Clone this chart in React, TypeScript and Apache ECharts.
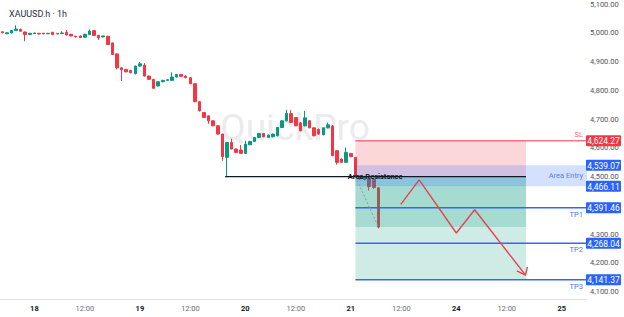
import React, { useEffect, useRef } from 'react';
import * as echarts from 'echarts';

// Trading sessions on the time axis (the weekend between 21 and 24 is skipped)
const sessionDays = ['17', '18', '19', '20', '21', '24', '25'];
const preSessionBars = 7; // last hourly bars of the 17th
const barsPerSession = 23;
const totalBars = 128;

// Hourly candles: [open, close, low, high]
const ohlc: number[][] = [
  [5003.4, 5000.0, 4998.0, 5005.0],
  [4996.5, 5000.0, 4995.0, 5001.5],
  [4999.3, 5007.6, 4998.0, 5009.0],
  [5007.6, 5013.1, 5006.0, 5025.9],
  [5012.1, 5005.2, 5004.0, 5014.0],
  [5002.7, 4993.7, 4970.6, 5004.0],
  [4993.7, 4998.2, 4992.0, 4999.5],
  [4997.2, 4999.3, 4996.0, 5000.5],
  [4998.2, 4995.8, 4994.5, 4999.5],
  [4998.5, 4996.0, 4995.0, 4999.5],
  [4996.5, 4998.2, 4995.5, 4999.5],
  [5001.7, 4993.7, 4992.5, 5003.0],
  [4998.0, 4996.0, 4995.0, 4999.0],
  [4997.2, 4999.3, 4996.0, 5005.2],
  [5001.7, 4992.4, 4991.0, 5009.7],
  [4994.8, 4988.9, 4987.5, 4996.0],
  [4987.9, 4985.4, 4984.0, 4989.0],
  [4988.9, 4983.4, 4982.0, 4990.0],
  [4984.4, 4994.8, 4983.0, 4996.0],
  [4993.7, 5006.2, 4992.5, 5011.0],
  [5007.6, 4990.3, 4989.0, 5009.0],
  [4991.3, 4982.0, 4975.1, 4992.5],
  [4985.4, 4988.9, 4984.0, 4990.0],
  [4987.9, 4959.1, 4957.5, 4989.0],
  [4964.7, 4924.5, 4922.5, 4966.0],
  [4926.6, 4878.2, 4872.6, 4928.0],
  [4878.2, 4871.3, 4832.2, 4879.5],
  [4872.6, 4864.3, 4862.5, 4874.0],
  [4869.2, 4860.9, 4859.0, 4871.0],
  [4857.4, 4884.1, 4855.5, 4886.0],
  [4884.1, 4892.0, 4882.5, 4897.9],
  [4887.5, 4849.5, 4848.0, 4894.4],
  [4849.5, 4838.0, 4836.5, 4851.0],
  [4838.0, 4806.9, 4805.0, 4839.5],
  [4814.9, 4829.7, 4813.0, 4831.0],
  [4829.7, 4834.6, 4828.0, 4836.0],
  [4834.6, 4836.6, 4833.0, 4838.0],
  [4834.6, 4846.0, 4833.0, 4862.3],
  [4846.0, 4855.3, 4844.5, 4857.0],
  [4855.3, 4848.4, 4847.0, 4857.0],
  [4849.5, 4843.6, 4842.0, 4851.0],
  [4843.6, 4822.8, 4821.0, 4845.0],
  [4822.8, 4760.5, 4758.5, 4824.0],
  [4760.5, 4728.4, 4726.5, 4762.0],
  [4722.5, 4705.2, 4703.5, 4724.0],
  [4711.1, 4693.8, 4683.4, 4713.0],
  [4693.8, 4676.5, 4675.0, 4695.5],
  [4676.5, 4647.7, 4646.0, 4678.0],
  [4647.7, 4569.2, 4555.4, 4649.0],
  [4566.8, 4618.7, 4497.6, 4620.5],
  [4618.7, 4595.8, 4594.0, 4631.5],
  [4595.8, 4584.1, 4582.5, 4597.5],
  [4592.4, 4580.6, 4579.0, 4610.0],
  [4580.6, 4613.1, 4579.0, 4624.6],
  [4610.7, 4622.1, 4609.0, 4624.0],
  [4622.1, 4636.0, 4620.5, 4638.0],
  [4636.0, 4649.8, 4634.5, 4652.0],
  [4649.8, 4638.4, 4636.5, 4651.5],
  [4636.0, 4644.3, 4634.5, 4646.0],
  [4638.4, 4647.7, 4636.5, 4649.5],
  [4641.9, 4670.6, 4640.0, 4672.5],
  [4670.6, 4693.8, 4669.0, 4695.5],
  [4693.8, 4719.7, 4692.0, 4731.8],
  [4719.0, 4687.9, 4686.0, 4730.8],
  [4705.2, 4676.5, 4675.0, 4707.0],
  [4686.8, 4659.2, 4657.5, 4688.5],
  [4676.5, 4704.1, 4674.5, 4728.4],
  [4693.8, 4669.5, 4668.0, 4695.5],
  [4669.5, 4641.9, 4640.0, 4671.0],
  [4664.0, 4647.7, 4645.0, 4667.0],
  [4645.3, 4669.5, 4643.5, 4671.0],
  [4669.5, 4679.9, 4668.0, 4687.9],
  [4676.0, 4572.7, 4571.0, 4679.0],
  [4590.0, 4549.5, 4541.5, 4592.0],
  [4561.2, 4549.5, 4547.5, 4563.0],
  [4549.5, 4584.1, 4547.5, 4601.4],
  [4580.6, 4569.2, 4567.5, 4582.5],
  [4566.8, 4500.0, 4497.0, 4568.5],
  [4500.0, 4492.0, 4488.0, 4503.0],
  [4490.0, 4497.0, 4486.0, 4500.0],
  [4493.0, 4465.4, 4451.6, 4497.0],
  [4489.6, 4461.9, 4458.0, 4493.0],
  [4461.0, 4324.6, 4320.0, 4462.0],
];

// Trade plan
const levelNames = ['SL', 'TP1', 'TP2', 'TP3'];
const levelPrices = [4624.27, 4391.46, 4268.04, 4141.37];
const entryBand = [4539.07, 4466.11];
const entryPrice = 4500;

// Drawing anchors, in bar units of the time axis
const boxFrom = 77;
const boxTo = 114.2;
const resistanceFrom = 48.6;
const resistanceLabelAt = 81.3;

// Projected price path and its arrow head (bar, price)
const pathBars = [86.9, 90.9, 99.0, 103.0, 114.1];
const pathPrices = [4403.1, 4488.6, 4303.8, 4384.8, 4157.5];
const arrowBars = [112.2, 114.1, 114.5];
const arrowPrices = [4172.4, 4157.5, 4186.2];

const FONT = 'Roboto, Arial, sans-serif';
const UP = '#089981';
const DOWN = '#f23645';
const BLUE = '#2962ff';
const xMin = -0.5;
const xMax = totalBars - 0.5;
const yMin = 4074.4;
const yMax = 5109;

const fmtPrice = (v: number) =>
  v.toLocaleString('en-US', { minimumFractionDigits: 2, maximumFractionDigits: 2 });

// Category names "DD HH:00" for every hourly bar slot
const barLabels: string[] = [];
const barHours: number[] = [];
for (let i = 0; i < totalBars; i++) {
  let day: string;
  let hour: number;
  if (i < preSessionBars) {
    day = sessionDays[0];
    hour = 24 - preSessionBars + i;
  } else {
    const k = Math.floor((i - preSessionBars) / barsPerSession);
    day = sessionDays[k + 1];
    hour = 1 + ((i - preSessionBars) % barsPerSession);
  }
  barLabels.push(`${day} ${String(hour).padStart(2, '0')}:00`);
  barHours.push(hour);
}

const lastIndex = ohlc.length - 1;
const lastClose = ohlc[lastIndex][1];

const zoneRects = [
  [boxFrom, boxTo, entryPrice, levelPrices[0]],
  [boxFrom, boxTo, levelPrices[3], entryPrice],
  [boxFrom, boxTo, lastClose, entryPrice],
  [boxFrom, xMax, entryBand[1], entryBand[0]],
];
const zoneFills = [
  'rgba(242,54,69,0.2)',
  'rgba(8,153,129,0.2)',
  'rgba(8,153,129,0.2)',
  'rgba(41,98,255,0.2)',
];

const tagPrices = [...levelPrices, ...entryBand];

const noteTexts = ['Area Resistance', 'Area Entry'];
const notePoints = [
  [resistanceLabelAt, entryPrice],
  [xMax, (entryBand[0] + entryBand[1]) / 2],
];

function buildOption(): any {
  return {
    animation: false,
    backgroundColor: '#ffffff',
    textStyle: { fontFamily: FONT },
    title: {
      text: 'XAUUSD.h · 1h',
      left: 4,
      top: 4,
      textStyle: { fontSize: 9, fontWeight: 'normal', color: '#2a2e39', fontFamily: FONT },
    },
    graphic: [
      {
        type: 'text',
        x: 295,
        y: 127,
        z: 0,
        silent: true,
        style: {
          text: 'QuickPro',
          fill: '#ebebee',
          fontSize: 37,
          fontFamily: FONT,
          align: 'center',
          verticalAlign: 'middle',
        },
      },
    ],
    grid: { left: 0, right: 37, top: 0, bottom: 18 },
    xAxis: [
      {
        type: 'category',
        data: barLabels,
        boundaryGap: true,
        axisLine: { lineStyle: { color: '#e0e3eb' } },
        axisTick: { show: false },
        splitLine: { show: false },
        axisLabel: {
          margin: 5,
          interval: (index: number) => barHours[index] === 1 || barHours[index] === 12,
          formatter: (value: string) => {
            const [d, t] = value.split(' ');
            return t === '01:00' ? `{d|${d}}` : `{t|${t}}`;
          },
          rich: {
            d: { fontSize: 7.5, fontWeight: 'bold', color: '#131722', fontFamily: FONT },
            t: { fontSize: 7.5, color: '#6a6d78', fontFamily: FONT },
          },
        },
      },
      { type: 'value', show: false, min: xMin, max: xMax },
    ],
    yAxis: {
      type: 'value',
      position: 'right',
      min: yMin,
      max: yMax,
      splitNumber: 10,
      axisLine: { show: false },
      axisTick: { show: false },
      splitLine: { show: false },
      axisLabel: {
        margin: 3,
        fontSize: 7.5,
        color: '#555555',
        fontFamily: FONT,
        formatter: (v: number) =>
          Math.abs(v / 100 - Math.round(v / 100)) < 1e-6 ? fmtPrice(v) : '',
      },
    },
    series: [
      {
        type: 'candlestick',
        xAxisIndex: 0,
        yAxisIndex: 0,
        data: ohlc,
        barWidth: 3,
        z: 2,
        silent: true,
        itemStyle: {
          color: UP,
          color0: DOWN,
          borderColor: UP,
          borderColor0: DOWN,
          borderWidth: 1,
        },
      },
      {
        // position tool zones and the entry band
        type: 'custom',
        xAxisIndex: 1,
        yAxisIndex: 0,
        z: 3,
        silent: true,
        data: zoneRects,
        encode: { x: [0, 1], y: [2, 3] },
        renderItem: (params: any, api: any) => {
          const a = api.coord([api.value(0), api.value(3)]);
          const b = api.coord([api.value(1), api.value(2)]);
          return {
            type: 'rect',
            shape: {
              x: a[0],
              y: Math.min(a[1], b[1]),
              width: b[0] - a[0],
              height: Math.abs(b[1] - a[1]),
            },
            style: { fill: zoneFills[params.dataIndex] },
          };
        },
      },
      {
        type: 'line',
        xAxisIndex: 1,
        yAxisIndex: 0,
        z: 4,
        silent: true,
        symbol: 'none',
        data: [
          [resistanceFrom, entryPrice],
          [boxTo, entryPrice],
        ],
        lineStyle: { color: '#131722', width: 1.1 },
      },
      {
        type: 'line',
        xAxisIndex: 1,
        yAxisIndex: 0,
        z: 4,
        silent: true,
        symbol: 'none',
        data: [
          [boxFrom, entryPrice],
          [lastIndex, lastClose],
        ],
        lineStyle: { color: '#9598a1', width: 1, type: [2, 2] },
      },
      {
        // SL / TP levels
        type: 'custom',
        xAxisIndex: 1,
        yAxisIndex: 0,
        z: 4,
        silent: true,
        data: levelPrices.map((p) => [boxFrom, p]),
        encode: { x: 0, y: 1 },
        renderItem: (params: any, api: any) => {
          const idx = params.dataIndex;
          const cs = params.coordSys;
          const right = cs.x + cs.width;
          const start = api.coord([api.value(0), api.value(1)]);
          const y = start[1];
          const isStop = idx === 0;
          return {
            type: 'group',
            children: [
              {
                type: 'line',
                shape: { x1: start[0], y1: y, x2: right, y2: y },
                style: { stroke: isStop ? DOWN : '#3567f2', lineWidth: isStop ? 1 : 1.4 },
              },
              {
                type: 'text',
                x: right - 4,
                y: isStop ? y - 6 : y + 6.5,
                style: {
                  text: levelNames[idx],
                  fill: isStop ? '#f26a75' : '#4b76e6',
                  fontSize: 7.5,
                  fontFamily: FONT,
                  align: 'right',
                  verticalAlign: 'middle',
                },
              },
            ],
          };
        },
      },
      {
        type: 'line',
        xAxisIndex: 1,
        yAxisIndex: 0,
        z: 5,
        silent: true,
        symbol: 'none',
        data: pathBars.map((b, i) => [b, pathPrices[i]]),
        lineStyle: { color: '#e5434f', width: 1.4 },
      },
      {
        type: 'line',
        xAxisIndex: 1,
        yAxisIndex: 0,
        z: 5,
        silent: true,
        symbol: 'none',
        data: arrowBars.map((b, i) => [b, arrowPrices[i]]),
        lineStyle: { color: '#e5434f', width: 1.4 },
      },
      {
        // text notes of the drawings
        type: 'custom',
        xAxisIndex: 1,
        yAxisIndex: 0,
        z: 6,
        silent: true,
        data: notePoints,
        encode: { x: 0, y: 1 },
        renderItem: (params: any, api: any) => {
          const idx = params.dataIndex;
          const p = api.coord([api.value(0), api.value(1)]);
          const isResistance = idx === 0;
          return {
            type: 'text',
            x: isResistance ? p[0] : p[0] - 4,
            y: p[1],
            style: {
              text: noteTexts[idx],
              fill: isResistance ? '#131722' : '#5b80e6',
              fontSize: isResistance ? 7.5 : 7.5,
              fontWeight: isResistance ? 'bold' : 'normal',
              fontFamily: FONT,
              align: isResistance ? 'center' : 'right',
              verticalAlign: 'middle',
            },
          };
        },
      },
      {
        // price tags on the price scale
        type: 'custom',
        xAxisIndex: 1,
        yAxisIndex: 0,
        z: 7,
        silent: true,
        clip: false,
        data: tagPrices.map((p) => [xMax, p]),
        encode: { x: 0, y: 1 },
        renderItem: (params: any, api: any) => {
          const idx = params.dataIndex;
          const p = api.coord([api.value(0), api.value(1)]);
          const fill = idx === 0 ? DOWN : BLUE;
          return {
            type: 'group',
            children: [
              {
                type: 'rect',
                shape: { x: p[0] - 1, y: p[1] - 5.5, width: 35, height: 11, r: 1 },
                style: { fill },
              },
              {
                type: 'text',
                x: p[0] + 16.5,
                y: p[1] + 0.5,
                style: {
                  text: fmtPrice(tagPrices[idx]),
                  fill: '#ffffff',
                  fontSize: 8.5,
                  fontFamily: FONT,
                  align: 'center',
                  verticalAlign: 'middle',
                },
              },
            ],
          };
        },
      },
    ],
  };
}

export default function App() {
  const ref = useRef<HTMLDivElement>(null);
  useEffect(() => {
    if (!ref.current) return;
    const chart = echarts.init(ref.current, null, { renderer: 'svg' });
    chart.setOption(buildOption());
    return () => chart.dispose();
  }, []);
  return (
    <div
      ref={ref}
      style={{ position: 'fixed', left: 0, top: 0, width: 624, height: 317, background: '#fff' }}
    />
  );
}
